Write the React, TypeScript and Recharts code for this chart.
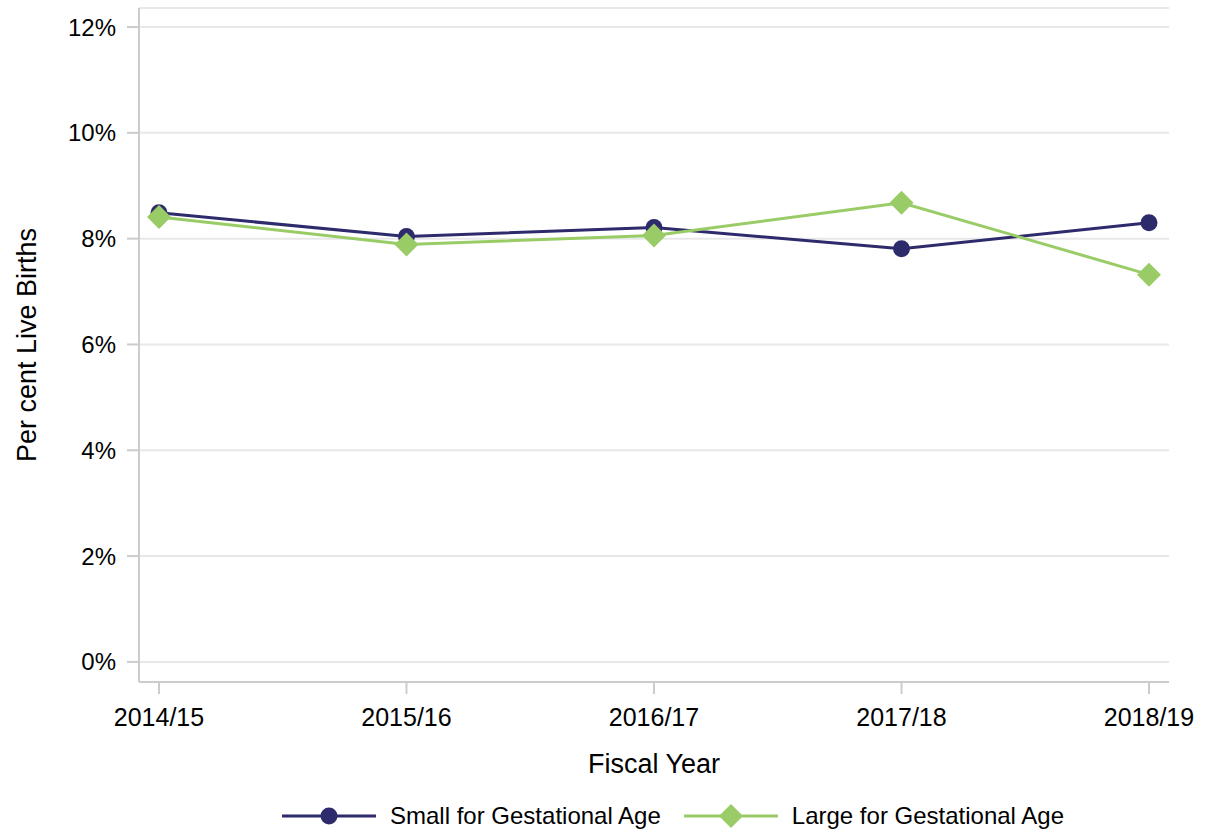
import { LineChart, Line, XAxis, YAxis, CartesianGrid, Legend } from 'recharts'

/** fiscal years on the x axis */
const years = ['2014/15', '2015/16', '2016/17', '2017/18', '2018/19']

/** per cent of live births */
const smallForAge = [8.49, 8.04, 8.21, 7.81, 8.3]
const largeForAge = [8.41, 7.89, 8.06, 8.68, 7.32]

const yTicks = [0, 2, 4, 6, 8, 10, 12]

const data = years.map((year, i) => ({
  year,
  sga: smallForAge[i],
  lga: largeForAge[i],
}))

const NAVY = '#2d2b6b'
const GREEN = '#99cc66'
const FRAME = '#cccccc'
const FONT = '"Liberation Sans", Arial, sans-serif'

const frameLine = { stroke: FRAME, strokeWidth: 2 }
const titleStyle = { fill: '#000', fontSize: 27, fontFamily: FONT }

function Diamond(props: { cx?: number; cy?: number; index?: number; size?: number }) {
  const { cx, cy } = props
  if (cx == null || cy == null) return null
  const s = props.size ?? 12
  return (
    <polygon
      key={`d-${props.index}`}
      points={`${cx},${cy - s} ${cx + s},${cy} ${cx},${cy + s} ${cx - s},${cy}`}
      fill={GREEN}
    />
  )
}

function LegendIcon({ color, shape }: { color: string; shape: 'circle' | 'diamond' }) {
  return (
    <svg width={94} height={24} style={{ display: 'block' }}>
      <line x1={0} y1={12} x2={94} y2={12} stroke={color} strokeWidth={3} />
      {shape === 'circle' ? (
        <circle cx={47} cy={12} r={8.5} fill={color} />
      ) : (
        <polygon points="47,0 59,12 47,24 35,12" fill={color} />
      )}
    </svg>
  )
}

function ChartLegend() {
  const item = { display: 'flex', alignItems: 'center' } as const
  const label = { fontSize: 24, fontFamily: FONT, color: '#000', marginLeft: 14 }
  return (
    <div style={{ display: 'flex', alignItems: 'center', height: 34, paddingLeft: 282 }}>
      <div style={item}>
        <LegendIcon color={NAVY} shape="circle" />
        <span style={label}>Small for Gestational Age</span>
      </div>
      <div style={{ ...item, marginLeft: 23 }}>
        <LegendIcon color={GREEN} shape="diamond" />
        <span style={label}>Large for Gestational Age</span>
      </div>
    </div>
  )
}

export default function App() {
  return (
    <div style={{ position: 'absolute', left: 0, top: 0, background: '#fff' }}>
      <LineChart
        width={1206}
        height={833}
        data={data}
        margin={{ top: 8, right: 37, bottom: 0, left: 0 }}
      >
        <CartesianGrid vertical={false} stroke="#e8e8e8" strokeWidth={2} />
        <XAxis
          dataKey="year"
          height={117}
          padding={{ left: 20, right: 20 }}
          tick={{ fill: '#000', fontSize: 25, fontFamily: FONT }}
          tickSize={12}
          tickMargin={14}
          tickLine={frameLine}
          axisLine={frameLine}
          label={{ value: 'Fiscal Year', position: 'insideTop', offset: 72, style: titleStyle }}
        />
        <XAxis
          xAxisId="top"
          dataKey="year"
          orientation="top"
          height={0}
          tick={false}
          tickLine={false}
          axisLine={frameLine}
        />
        <YAxis
          type="number"
          width={139}
          domain={[-0.38, 12.36]}
          ticks={yTicks}
          tickFormatter={(v: number) => `${v}%`}
          tick={{ fill: '#000', fontSize: 24, fontFamily: FONT }}
          tickSize={12}
          tickMargin={11}
          tickLine={frameLine}
          axisLine={frameLine}
          label={{
            value: 'Per cent Live Births',
            angle: -90,
            position: 'insideLeft',
            offset: 26,
            style: { ...titleStyle, textAnchor: 'middle' },
          }}
        />
        <YAxis
          yAxisId="right"
          orientation="right"
          width={0}
          tick={false}
          tickLine={false}
          axisLine={frameLine}
        />
        <Legend verticalAlign="bottom" height={34} content={<ChartLegend />} />
        <Line
          dataKey="sga"
          name="Small for Gestational Age"
          stroke={NAVY}
          strokeWidth={3}
          dot={{ r: 8.5, fill: NAVY, stroke: 'none' }}
          activeDot={false}
          isAnimationActive={false}
        />
        <Line
          dataKey="lga"
          name="Large for Gestational Age"
          stroke={GREEN}
          strokeWidth={3}
          dot={(p: any) => <Diamond key={`lga-${p.index}`} cx={p.cx} cy={p.cy} index={p.index} />}
          activeDot={false}
          isAnimationActive={false}
        />
      </LineChart>
    </div>
  )
}
